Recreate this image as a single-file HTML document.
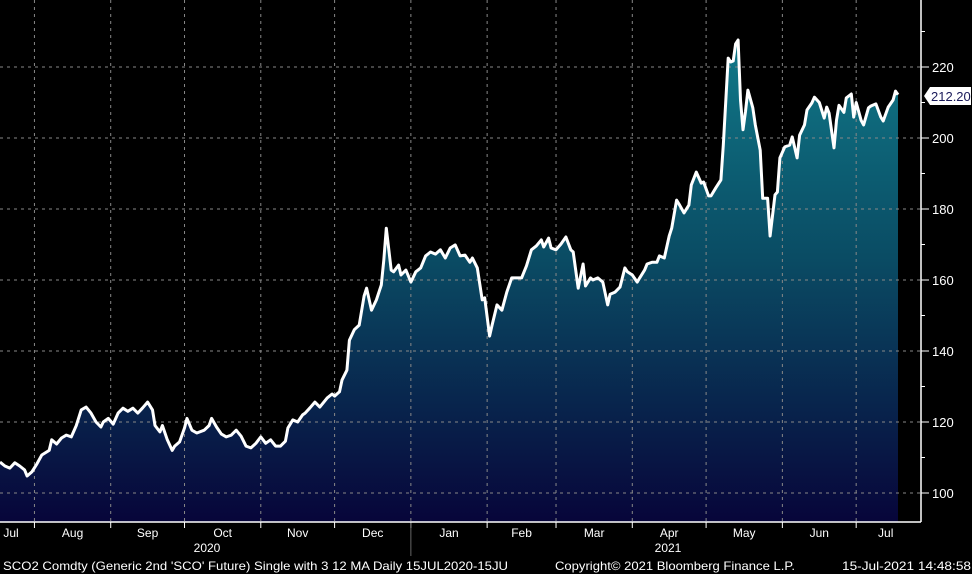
<!DOCTYPE html>
<html><head><meta charset="utf-8"><style>
html,body{margin:0;padding:0;background:#000;}
svg{display:block;}
text{font-family:"Liberation Sans Narrow","Liberation Sans",sans-serif;}
</style></head><body>
<svg id="chart" width="972" height="574" viewBox="0 0 972 574" xmlns="http://www.w3.org/2000/svg">
<defs>
<linearGradient id="fillGrad" gradientUnits="userSpaceOnUse" x1="0" y1="40" x2="0" y2="522">
<stop offset="0" stop-color="#107888"/>
<stop offset="0.45" stop-color="#0a4c64"/>
<stop offset="1" stop-color="#07053a"/>
</linearGradient>
</defs>
<rect width="972" height="574" fill="#000"/>
<path id="area" fill="url(#fillGrad)"/>
<g id="grid"></g>
<path id="line" fill="none" stroke="#fff" stroke-width="3" stroke-linejoin="round"/>
<g id="axes"></g>
<g>
<polygon points="924,96 930,87 971,87 971,105 930,105" fill="#fff"/>
<text x="931" y="101" font-size="13" fill="#1a1a5a">212.20</text>
</g>
<text x="3" y="570" font-size="12" fill="#fff" textLength="505" lengthAdjust="spacingAndGlyphs">SCO2 Comdty (Generic 2nd 'SCO' Future) Single with 3 12 MA  Daily 15JUL2020-15JU</text>
<text x="555" y="570" font-size="12" fill="#fff" textLength="240" lengthAdjust="spacingAndGlyphs">Copyright© 2021 Bloomberg Finance L.P.</text>
<text x="842" y="570" font-size="12" fill="#fff" textLength="129" lengthAdjust="spacingAndGlyphs">15-Jul-2021 14:48:58</text>
</svg>
<script>
const days = [0,2,4,6,8,10,11,13,15,17,20,21,23,25,27,29,31,33,35,37,39,41,42,44,46,48,50,52,54,56,58,60,62,63,65,66,68,70,71,73,75,76,78,80,83,85,86,88,90,92,94,96,98,100,102,104,106,108,110,112,114,116,117,119,121,123,124,126,128,130,133,135,136,138,139,141,142,144,146,148,149,151,153,155,156,157,159,160,162,163,165,167,169,171,173,175,177,179,181,183,185,187,189,191,192,194,196,197,199,200,202,204,206,208,210,212,214,216,218,220,221,223,224,226,228,230,232,233,235,237,238,240,241,243,245,247,248,250,252,254,255,257,259,260,262,263,265,267,268,270,272,273,275,276,278,280,281,283,285,286,288,289,291,293,294,296,297,298,299,300,301,302,303,304,306,307,309,310,312,313,315,316,317,319,321,322,324,325,327,328,330,331,333,335,336,337,339,340,341,343,344,346,347,348,350,351,353,354,356,358,359,361,363,364,365];
const prices = [108.7,107.6,107,108.5,107.6,106.5,104.8,106,108.2,110.7,112,115,113.8,115.5,116.3,115.8,119,123.4,124.2,122.5,120,118.6,120,121,119.4,122.5,123.9,123,123.9,122.5,124,125.6,123.4,119,117.2,119,115,112,113.2,114.4,118.3,121,117.7,116.9,117.7,119,121,118.6,116.6,115.8,116.3,117.7,116,113.2,112.7,114,115.8,114,115,113.2,113.2,114.6,118.3,120.6,120,122,122.5,124,125.6,124.2,126.8,127.9,127.3,128.5,131.8,134.6,143,146,147.3,155.5,157.7,151.5,154.4,158.6,165.6,174.6,162.8,162.3,164.2,161.4,162.8,159.4,162.3,163.4,166.8,167.9,167.3,168.5,166.2,169,169.9,166.8,167,165,166.2,163.4,154.4,155,144.2,147.3,153,151.5,156.6,160.6,160.6,160.6,164,168.5,169.6,171.3,169.3,171.8,169,168.5,170.1,172.1,168.5,167.9,157.7,164.5,158.3,160.6,160,160.6,159.4,153,156,156.6,158,163.4,162.3,161.4,159.4,160.6,162.8,164.5,165,165,166.8,166.2,172.4,174.6,182.5,181.4,178.9,181.1,186.8,190.4,187.3,187.6,183.7,183.7,186,188.2,198,222.5,221.4,221.7,226.5,227.6,210.7,202.3,207.5,213.5,208.5,203.7,196.6,183,183,172.4,184,184.8,194.4,197.5,198,200.3,194.4,200.8,203.7,207.9,209.9,211.5,210,205.6,208.7,207,197.2,205,209.2,207.2,211.3,212.4,205.9,210,205,203.7,208.5,209,209.6,205.9,204.8,208.7,210.7,213.2,212.2];
const yTicks = [100,120,140,160,180,200,220];
const yMinorTicks = [90,110,130,150,170,190,210,230];
const monthLabels = ["Jul","Aug","Sep","Oct","Nov","Dec","Jan","Feb","Mar","Apr","May","Jun","Jul"];
const monthStartDays = [-17,14,45,75,106,136,167,198,226,257,287,318,348];
const yearLabels = ["2020","2021"];

const NS = "http://www.w3.org/2000/svg";
const X0 = 0, X1 = 898, TOTAL = 365, AX = 921, AY = 522;
function xs(d){ return X0 + (d/TOTAL)*(X1-X0); }
function ys(v){ return 67 + (220 - v)*3.55; }
function mk(tag, attrs, parent){ const e=document.createElementNS(NS,tag); for(const k in attrs) e.setAttribute(k,attrs[k]); parent.appendChild(e); return e; }

const grid = document.getElementById('grid');
const axes = document.getElementById('axes');

yTicks.forEach(v=>{
  const g = mk('line',{x1:0,x2:AX,y1:ys(v),y2:ys(v),stroke:'#888','stroke-width':1,'stroke-dasharray':'3,4'},grid);
  
  
  const t = mk('line',{x1:AX,x2:AX+8,y1:ys(v),y2:ys(v),stroke:'#fff','stroke-width':1},axes);
  
  
  const lb = mk('text',{x:AX+11,y:ys(v)+5,'font-size':13,fill:'#fff'},axes);
  lb.textContent = v;
  
  
});
yMinorTicks.forEach(v=>{
  const y=ys(v); if(y<0||y>AY) return;
  const t = mk('line',{x1:AX,x2:AX+4,y1:y,y2:y,stroke:'#fff','stroke-width':1},axes);
  
  
});
monthStartDays.forEach((d,i)=>{
  if(i>0){
    const x = xs(d);
    const g = mk('line',{x1:x,x2:x,y1:0,y2:AY,stroke:'#888','stroke-width':1,'stroke-dasharray':'3,4'},grid);
    
    
    const t = mk('line',{x1:x,x2:x,y1:AY,y2:AY+6,stroke:'#fff','stroke-width':1},axes);
    
    
  }
  const next = i<monthStartDays.length-1 ? monthStartDays[i+1] : 365+14;
  const cx = Math.max(11, Math.min(896, xs((Math.max(d,-9)+Math.min(next,372))/2)));
  const lb = mk('text',{x:cx,y:537,'font-size':12,fill:'#fff','text-anchor':'middle'},axes);
  lb.textContent = monthLabels[i];
  
  
});
const ySep = xs(monthStartDays[6]);
const sep = mk('line',{x1:ySep,x2:ySep,y1:AY,y2:556,stroke:'#666','stroke-width':1},axes);


[[207,0],[668,1]].forEach(([x,i])=>{
  const lb = mk('text',{x:x,y:552,'font-size':12,fill:'#fff','text-anchor':'middle'},axes);
  lb.textContent = yearLabels[i];
  
  
});
const ax1 = mk('line',{x1:AX,x2:AX,y1:0,y2:AY,stroke:'#fff','stroke-width':1.5},axes);


const ax2 = mk('line',{x1:0,x2:AX,y1:AY,y2:AY,stroke:'#fff','stroke-width':1.5},axes);



let d = '';
days.forEach((dd,i)=>{ d += (i?'L':'M') + xs(dd).toFixed(1) + ',' + ys(prices[i]).toFixed(1); });
document.getElementById('line').setAttribute('d', d);
document.getElementById('area').setAttribute('d', d + 'L' + xs(days[days.length-1]).toFixed(1) + ',' + AY + 'L' + xs(days[0]).toFixed(1) + ',' + AY + 'Z');
</script>
</body></html>
